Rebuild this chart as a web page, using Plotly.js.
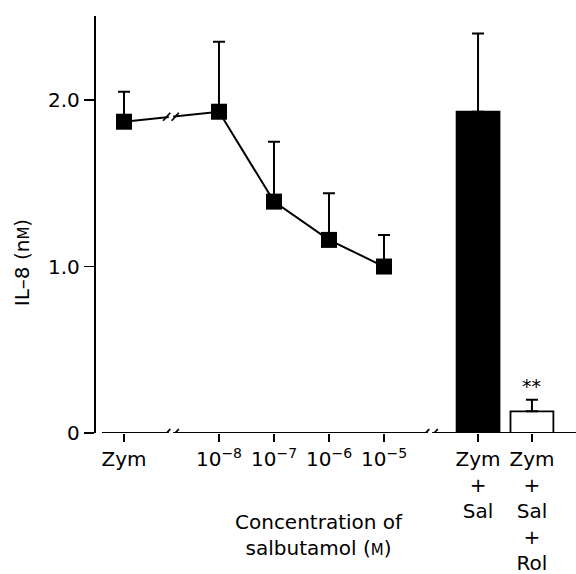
<!DOCTYPE html>
<html>
<head>
<meta charset="utf-8">
<script src="https://cdn.plot.ly/plotly-3.0.1.min.js"></script>
<style>html,body{margin:0;padding:0;background:#fff;}#chart{width:576px;height:574px;}</style>
</head>
<body>
<div id="chart"></div>
<script>
// ---- data ----
var lineCategories = ["Zym", "10<sup>−8</sup>", "10<sup>−7</sup>", "10<sup>−6</sup>", "10<sup>−5</sup>"];
var lineValues = [1.87, 1.93, 1.39, 1.16, 1.00];
var lineErrors = [0.18, 0.42, 0.36, 0.28, 0.19];
var barCategories = ["Zym<br>+<br>Sal", "Zym<br>+<br>Sal<br>+<br>Rol"];
var barValues = [1.93, 0.13];
var barErrors = [0.47, 0.07];
var yTickValues = [0, 1, 2];
var yTickLabels = ["0", "1.0", "2.0"];

// ---- layout positions (axis slots; log10 concentration for salbutamol, broken axis for controls) ----
var linePos = [-9.727, -8, -7, -6, -5];
var barPos = [-3.29, -2.31];
var leftBreak = -8.873, rightBreak = -4.164;

var FONT = "DejaVu Sans, sans-serif";
var FS = 20;

var lineTrace = {
  type: "scatter", mode: "lines+markers",
  x: linePos, y: lineValues,
  line: {color: "black", width: 2},
  marker: {symbol: "square", size: 16, color: "black"},
  error_y: {type: "data", array: lineErrors, arrayminus: lineValues.map(function(){return 0;}),
            symmetric: false, color: "black", thickness: 2, width: 6},
  showlegend: false, hoverinfo: "skip"
};
var barTrace = {
  type: "bar", x: barPos, y: barValues, width: 0.78,
  marker: {color: ["black", "white"], line: {color: "black", width: 1.8}},
  error_y: {type: "data", array: barErrors, arrayminus: barValues.map(function(){return 0;}),
            symmetric: false, color: "black", thickness: 2, width: 6},
  showlegend: false, hoverinfo: "skip"
};

// break marks
function slashPair(xc, yc, dxUnit, dyUnit) {
  var out = [];
  [-1, 1].forEach(function(s){
    var cx = xc + s * dxUnit * 0.6;
    out.push({type: "line", xref: "x", yref: "y",
      x0: cx - dxUnit * 0.5, y0: yc - dyUnit, x1: cx + dxUnit * 0.5, y1: yc + dyUnit,
      line: {color: "black", width: 1.8}});
  });
  return out;
}
var t = (leftBreak - linePos[0]) / (linePos[1] - linePos[0]);
var lineBreakY = lineValues[0] + t * (lineValues[1] - lineValues[0]);

var xr = [-10.236, -1.509];
var shapes = [
  {type: "line", xref: "paper", yref: "y", x0: 6/480, x1: 1, y0: 0, y1: 0, line: {color: "black", width: 2}}
];
shapes.push({type: "line", xref: "x", yref: "y", x0: leftBreak - 0.04, x1: leftBreak + 0.04, y0: 0, y1: 0, line: {color: "white", width: 4}});
shapes.push({type: "line", xref: "x", yref: "y", x0: rightBreak - 0.04, x1: rightBreak + 0.04, y0: 0, y1: 0, line: {color: "white", width: 4}});
shapes.push({type: "line", xref: "x", yref: "y", x0: leftBreak - 0.04, x1: leftBreak + 0.04,
  y0: lineBreakY - 0.0014, y1: lineBreakY + 0.0014, line: {color: "white", width: 4}});
shapes = shapes.concat(slashPair(leftBreak, 0, 0.13, 0.024));
shapes = shapes.concat(slashPair(rightBreak, 0, 0.13, 0.024));
shapes = shapes.concat(slashPair(leftBreak, lineBreakY, 0.13, 0.024));

var layout = {
  width: 576, height: 574,
  margin: {l: 96, r: 0, t: 16, b: 141, pad: 0},
  paper_bgcolor: "white", plot_bgcolor: "white",
  font: {family: FONT, size: FS, color: "black"},
  xaxis: {
    range: xr, showgrid: false, zeroline: false, showline: false,
    tickmode: "array", tickvals: linePos.concat(barPos), ticktext: lineCategories.concat(barCategories),
    ticks: "outside", ticklen: 8, tickwidth: 1.8, tickcolor: "black",
    tickfont: {family: FONT, size: FS, color: "black"}, tickangle: 0
  },
  yaxis: {
    range: [0, 2.505], showgrid: false, zeroline: false,
    showline: true, linecolor: "black", linewidth: 2.2,
    tickmode: "array", tickvals: yTickValues, ticktext: yTickLabels,
    ticks: "outside", ticklen: 10, tickwidth: 1.8, tickcolor: "black",
    tickfont: {family: FONT, size: FS, color: "black"}
  },
  shapes: shapes,
  annotations: [
    {xref: "paper", yref: "y", x: -74/480, y: 1.02, xanchor: "center", yanchor: "middle", textangle: -90,
     text: "IL–8 (n<span style=\"font-size:15px\">M</span>)", showarrow: false,
     font: {family: FONT, size: FS, color: "black"}},
    {xref: "x", yref: "y", x: barPos[1], y: barValues[1] + barErrors[1], text: "**",
     showarrow: false, yanchor: "bottom", yshift: 1, font: {family: FONT, size: 19, color: "black"}},
    {xref: "paper", yref: "paper", x: 0.465, y: -0.18, xanchor: "center", yanchor: "top",
     text: "Concentration of<br>salbutamol (<span style=\"font-size:15px\">M</span>)", showarrow: false,
     font: {family: FONT, size: FS, color: "black"}}
  ]
};

Plotly.newPlot("chart", [barTrace, lineTrace], layout, {staticPlot: true, displayModeBar: false});
</script>
</body>
</html>
